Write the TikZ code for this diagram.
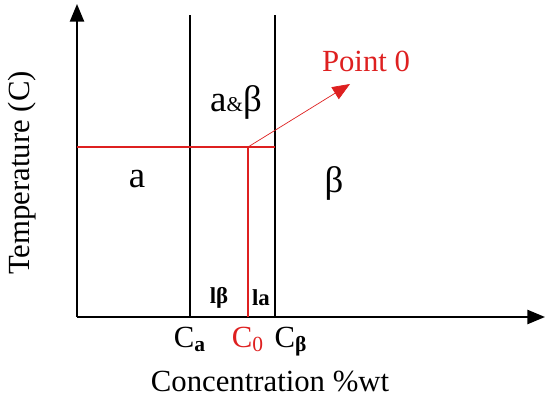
\documentclass[tikz,border=0pt]{standalone}
\usepackage{fontspec}
\setmainfont{Liberation Serif}
\usetikzlibrary{arrows.meta}
\definecolor{phasered}{RGB}{222,32,32}
\begin{document}
\begin{tikzpicture}[x=0.02cm, y=-0.02cm, >={Triangle[length=10pt,width=8pt]},
    axis/.style={line width=1.1pt},
    border/.style={line width=1pt},
    redline/.style={phasered, line width=1pt},
    big/.style={font=\rmfamily\fontsize{21}{24}\selectfont},
    mid/.style={font=\rmfamily\fontsize{17.5}{20}\selectfont},
    small/.style={font=\rmfamily\fontsize{13}{15}\selectfont\bfseries}]

  \useasboundingbox (0,0) rectangle (546,401);

  % Assen
  \coordinate (O) at (77,317);
  \coordinate (Ytop) at (77,4);
  \coordinate (Xend) at (545,317);
  \draw[->, axis] (O) -- (Ytop);
  \draw[->, axis] (O) -- (Xend);

  % Fasegrenzen
  \coordinate (Ca) at (190,317);
  \coordinate (CaTop) at (190,15);
  \coordinate (Cb) at (275,317);
  \coordinate (CbTop) at (275,15);
  \draw[border] (Ca) -- (CaTop);
  \draw[border] (Cb) -- (CbTop);

  % Punt 0
  \coordinate (Tleft) at (77,147);
  \coordinate (Tright) at (275,147);
  \coordinate (P) at (248,147);
  \coordinate (C0) at (248,317);
  \draw[redline] (Tleft) -- (Tright);
  \draw[redline] (P) -- (C0);
  \coordinate (Tip) at (350,84);
  \draw[->, phasered, line width=0.4pt] (P) -- (Tip);
  \node[phasered, mid] (pointlbl) at (366,61) {Point 0};

  % Fasen
  \node[big] (alpha) at (137,179) {a};
  \node[big] (beta) at (334,183) {β};
  \node[big] (ab) at (236,102) {a{\fontsize{12}{14}\selectfont\&}β};

  % Hefboom
  \node[small] (lb) at (219,298) {lβ};
  \node[small] (la) at (261,298) {la};

  % Concentraties
  \node[mid, below=2pt] (Calbl) at (Ca) {C\textsubscript{\textbf{a}}};
  \node[mid, below=2pt, phasered] (C0lbl) at (C0) {C\textsubscript{0}};
  \node[mid, below=2pt] (Cblbl) at (291,317) {C\textsubscript{\textbf{β}}};

  % Aslabels
  \node[mid, rotate=90] (ylbl) at (22,173) {Temperature (C)};
  \node[mid] (xlbl) at (270,381) {Concentration \%wt};

\end{tikzpicture}
\end{document}
